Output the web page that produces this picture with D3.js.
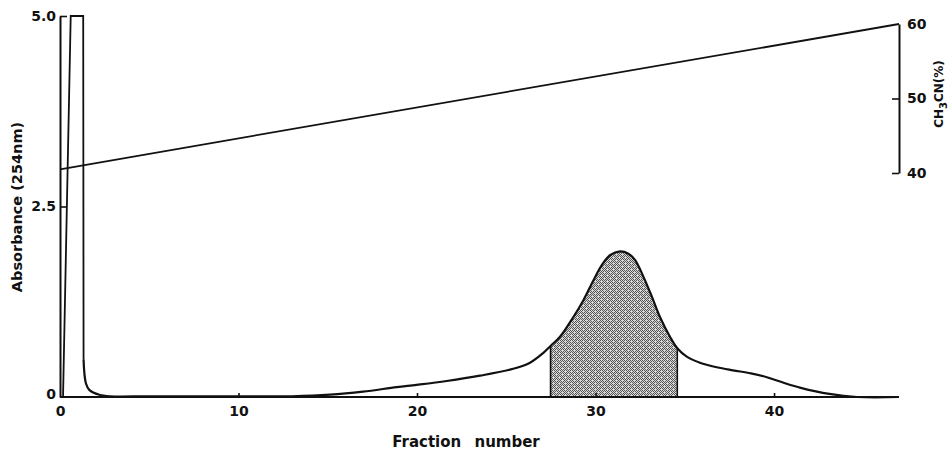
<!DOCTYPE html>
<html>
<head>
<meta charset="utf-8">
<script src="https://cdn.jsdelivr.net/npm/d3@7"></script>
<style>
  html, body { margin: 0; padding: 0; background: #fff; }
  svg { display: block; }
  text { font-family: "DejaVu Sans", sans-serif; fill: #111; }
</style>
</head>
<body>
<svg id="chart" width="952" height="453"></svg>
<script>
// Elution profile, absorbance at 254 nm against fraction number.
// Off-scale breakthrough spike (drawn with straight segments)
const spikeFraction   = [0, 0.17, 0.6, 1.3, 1.32];
const spikeAbsorbance = [0, 0,    5.0, 5.0, 0.49];

// Remainder of the trace, smoothed
const elutionFraction   = [1.32, 1.45, 1.65, 2.2, 2.8, 5, 10, 13, 15.13, 16.97, 18.86, 19.98, 21.66,
                           23.53, 25.39, 26.33, 27.08, 27.48, 28.01, 28.76, 29.32, 29.88, 30.35,
                           30.81, 31.37, 31.84, 32.21, 32.68, 33.15, 33.61, 34.17, 34.58, 35.11,
                           35.85, 36.8, 37.7, 38.7, 39.6, 40.5, 41.5, 43.1, 44.65, 47];
const elutionAbsorbance = [0.49, 0.18, 0.09, 0.03, 0.01, 0.01, 0.01, 0.01, 0.03, 0.07, 0.13, 0.16, 0.21,
                           0.28, 0.37, 0.45, 0.58, 0.67, 0.79, 1.05, 1.27, 1.53, 1.73,
                           1.86, 1.91, 1.88, 1.80, 1.58, 1.32, 1.05, 0.79, 0.64, 0.53,
                           0.45, 0.39, 0.35, 0.31, 0.26, 0.19, 0.12, 0.04, 0.0, 0.0];

// Pooled fractions (shaded)
const pooledFrom = 27.48;
const pooledTo   = 34.58;

// Acetonitrile gradient (%)
const gradientFraction = [0, 47];
const gradientPercent  = [40.5, 60];

// Axis ticks
const fractionTicks   = [0, 10, 20, 30, 40];
const absorbanceTicks = [0, 2.5, 5.0];
const absorbanceTickLabels = ["0", "2.5", "5.0"];
const percentTicks    = [40, 50, 60];

const svg = d3.select("#chart");

const x  = d3.scaleLinear().domain([0, 47]).range([60, 899]);
const y  = d3.scaleLinear().domain([0, 5]).range([397, 16]);
const yR = d3.scaleLinear().domain([40, 60]).range([173, 24]);

const spike   = spikeFraction.map((f, i) => [f, spikeAbsorbance[i]]);
const elution = elutionFraction.map((f, i) => [f, elutionAbsorbance[i]]);
const smooth  = d3.curveCatmullRom.alpha(0.5);

// stipple texture for the pooled region
const defs = svg.append("defs");
const pat = defs.append("pattern")
  .attr("id", "stipple").attr("patternUnits", "userSpaceOnUse")
  .attr("width", 6).attr("height", 6);
pat.append("rect").attr("width", 6).attr("height", 6).attr("fill", "#d8d8d8");
for (let py = 0; py < 6; py++) {
  for (let px = 0; px < 6; px++) {
    if ((px + py) % 2 === 0 && !(px === 4 && py === 2) && !(px === 1 && py === 5)) {
      pat.append("rect").attr("x", px).attr("y", py).attr("width", 1).attr("height", 1)
        .attr("fill", "#555");
    }
  }
}
defs.append("clipPath").attr("id", "pool")
  .append("rect")
  .attr("x", x(pooledFrom)).attr("y", 0)
  .attr("width", x(pooledTo) - x(pooledFrom)).attr("height", 453);

// shaded pooled fractions
svg.append("path")
  .datum(elution)
  .attr("clip-path", "url(#pool)")
  .attr("fill", "url(#stipple)")
  .attr("d", d3.area().curve(smooth)
    .x(d => x(d[0])).y0(y(0)).y1(d => y(d[1])));

// edges of the pooled region
[pooledFrom, pooledTo].forEach(f => {
  const v = elutionAbsorbance[elutionFraction.indexOf(f)];
  svg.append("line")
    .attr("x1", x(f)).attr("x2", x(f))
    .attr("y1", y(0)).attr("y2", y(v))
    .attr("stroke", "#111").attr("stroke-width", 1.6);
});

// axes
const axisStyle = g => {
  g.selectAll(".domain").attr("stroke", "#111").attr("stroke-width", 2);
  g.selectAll(".tick line").attr("stroke", "#111").attr("stroke-width", 1.6);
  g.selectAll("text").attr("font-size", 14).attr("font-weight", "bold").attr("fill", "#111")
    .attr("font-family", "DejaVu Sans, sans-serif");
};

svg.append("g")
  .attr("transform", `translate(0,${y(0)})`)
  .call(d3.axisBottom(x).tickValues(fractionTicks).tickSize(-4).tickSizeOuter(0).tickPadding(9)
    .tickFormat(d3.format("d")))
  .call(axisStyle)
  .call(g => g.select(".domain").attr("d", `M${x(0)},0H${x(46.85)}`))
  .call(g => g.selectAll(".tick").filter(d => d === 0).select("line").remove());

svg.append("g")
  .attr("transform", `translate(${x(0)},0)`)
  .call(d3.axisLeft(y).tickValues(absorbanceTicks).tickSize(-7).tickSizeOuter(0).tickPadding(4)
    .tickFormat((d, i) => absorbanceTickLabels[i]))
  .call(axisStyle)
  .call(g => g.selectAll(".tick").filter(d => d === 0).select("line").remove())
  .call(g => g.selectAll(".tick").filter(d => d === 0).select("text").attr("dy", "0.1em"));

svg.append("g")
  .attr("transform", `translate(${x(47)},0)`)
  .call(d3.axisRight(yR).tickValues(percentTicks).tickSize(-7).tickSizeOuter(0).tickPadding(8)
    .tickFormat(d3.format("d")))
  .call(axisStyle)
  .call(g => g.selectAll(".tick").filter(d => d === 60).select("line").remove());

// gradient line
svg.append("path")
  .datum(gradientFraction.map((f, i) => [f, gradientPercent[i]]))
  .attr("fill", "none").attr("stroke", "#111").attr("stroke-width", 1.8)
  .attr("d", d3.line().x(d => x(d[0])).y(d => yR(d[1])));

// absorbance trace
svg.append("path")
  .datum(spike)
  .attr("fill", "none").attr("stroke", "#111").attr("stroke-width", 1.8)
  .attr("stroke-linejoin", "miter")
  .attr("d", d3.line().x(d => x(d[0])).y(d => y(d[1])));
svg.append("path")
  .datum(elution)
  .attr("fill", "none").attr("stroke", "#111").attr("stroke-width", 2.2)
  .attr("d", d3.line().curve(smooth).x(d => x(d[0])).y(d => y(d[1])));

// axis titles
svg.append("text")
  .attr("x", 466).attr("y", 447)
  .attr("text-anchor", "middle")
  .attr("font-size", 15).attr("font-weight", "bold")
  .attr("word-spacing", 8)
  .text("Fraction number");

svg.append("text")
  .attr("transform", "translate(22,207) rotate(-90)")
  .attr("text-anchor", "middle")
  .attr("font-size", 14.5).attr("font-weight", "bold")
  .text("Absorbance (254nm)");

const rt = svg.append("text")
  .attr("transform", "translate(943,94) rotate(-90)")
  .attr("text-anchor", "middle")
  .attr("font-size", 12).attr("font-weight", "bold");
rt.append("tspan").text("CH");
rt.append("tspan").attr("dy", 4).attr("font-size", 10).text("3");
rt.append("tspan").attr("dy", -4).text("CN(%)");
</script>
</body>
</html>
